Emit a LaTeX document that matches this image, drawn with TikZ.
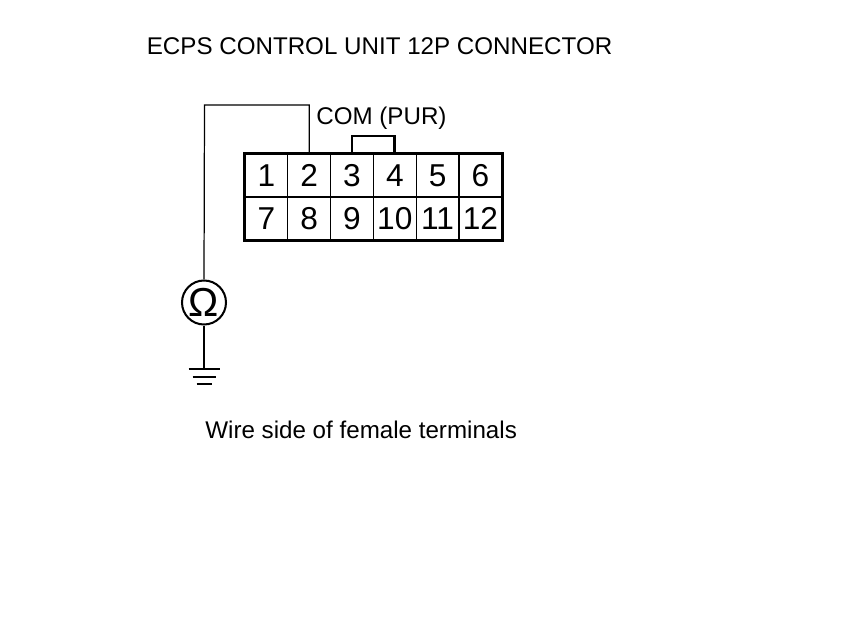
\documentclass[tikz,border=0pt]{standalone}
\usepackage{fontspec}
\setmainfont{Liberation Sans}
\tikzset{
 pinbox/.style={draw,line width=0.7pt,minimum width=0.856cm,minimum height=0.86cm,inner sep=0pt,font=\fontsize{18}{20}\selectfont},
 label/.style={anchor=base west,inner sep=0pt,font=\fontsize{13.75}{15}\selectfont},
 wire/.style={line width=0.7pt},
 heavy/.style={line width=1.6pt}
}
\begin{document}
\begin{tikzpicture}
 \useasboundingbox (0,0) rectangle (17.2,12.6);
 \node[label] (title) at (2.93,11.52) {ECPS CONTROL UNIT 12P CONNECTOR};
 \node[label] (com) at (6.32,10.12) {COM (PUR)};
 \node[label] (side) at (4.1,3.84) {Wire side of female terminals};
 %端子
 \foreach \n in {1,...,6}
  \node[pinbox] (c\n) at ({4.9+0.856*(\n-1)+0.428},9.09) {\n};
 \foreach \n [evaluate=\n as \m using int(\n+6)] in {1,...,6}
  \node[pinbox] (c\m) at ({4.9+0.856*(\n-1)+0.428},8.23) {\m};
 \draw[heavy] (c1.north west) rectangle (c12.south east); %外枠
 %ジャンパ
 \coordinate (jump) at (7.45,9.88);
 \draw[heavy] (c3.north) |- (jump) -| (c4.north);
 %テスタ
 \node[draw,circle,line width=1.15pt,minimum size=0.88cm,inner sep=0pt,font=\fontsize{23}{26}\selectfont] (ohm) at (4.08,6.55) {Ω};
 \coordinate (top) at (4.09,10.5);
 \draw[wire] (ohm.north) -- (top) -| (c2.north);
 %アース
 \coordinate (gnd) at (4.08,5.22);
 \coordinate (gnda) at (4.08,5.06);
 \coordinate (gndb) at (4.08,4.92);
 \draw[wire] (ohm.south) -- (gnd);
 \draw[line width=1.4pt] ([xshift=-0.31cm]gnd) -- ([xshift=0.31cm]gnd);
 \draw[line width=1.2pt] ([xshift=-0.23cm]gnda) -- ([xshift=0.23cm]gnda);
 \draw[line width=1.2pt] ([xshift=-0.15cm]gndb) -- ([xshift=0.15cm]gndb);
\end{tikzpicture}
\end{document}
